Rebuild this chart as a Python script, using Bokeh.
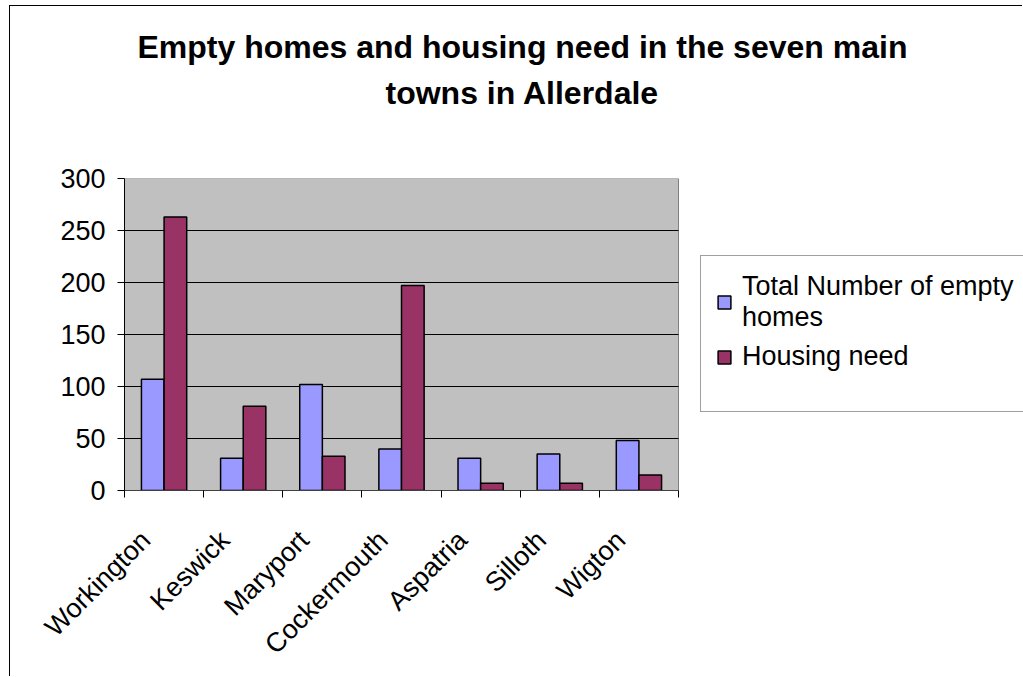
import math
from bokeh.plotting import figure
from bokeh.models import (Range1d, FixedTicker, ColumnDataSource, Legend, LegendItem, Title)
from bokeh.transform import dodge
from bokeh.embed import file_html
from bokeh.resources import INLINE

towns = ["Workington", "Keswick", "Maryport", "Cockermouth", "Aspatria", "Silloth", "Wigton"]
empty_homes = [107, 31, 102, 40, 31, 35, 48]
housing_need = [263, 81, 33, 197, 7, 7, 15]
y_ticks = [0, 50, 100, 150, 200, 250, 300]
title_lines = ["Empty homes and housing need in the seven main", "towns in Allerdale"]
series_names = ["Total Number of empty\nhomes", "Housing need"]

FONT = "Liberation Sans"
BLUE = "#9999FF"
PLUM = "#993366"

n = len(towns)
centers = [i + 0.5 for i in range(n)]
src = ColumnDataSource(dict(x=centers, town=towns, empty=empty_homes, need=housing_need))

# canvas geometry (page offset of 10/6 px due to the chart-area border)
CANVAS_W, CANVAS_H = 1013, 671
LEFT, TOP, BOTTOM = 114, 172, 187
PLOT_AREA_W = 554          # pixel width of the category area
frame_w = CANVAS_W - LEFT
x_end = n * frame_w / PLOT_AREA_W

p = figure(width=CANVAS_W, height=CANVAS_H, output_backend="svg", toolbar_location=None,
           x_range=Range1d(0, x_end), y_range=Range1d(y_ticks[0], y_ticks[-1]),
           min_border_left=LEFT, min_border_right=0, min_border_top=TOP,
           min_border_bottom=BOTTOM, margin=(5, 0, 0, 9))
p.styles = {"border-left": "1px solid black", "border-top": "1px solid black"}

p.background_fill_color = "white"
p.border_fill_color = "white"
p.outline_line_color = None
p.xgrid.visible = False
p.ygrid.visible = False

# plot area (grey wall) and its horizontal grid lines
p.quad(left=0, right=n, bottom=y_ticks[0], top=y_ticks[-1],
       fill_color="#C0C0C0", line_color="#808080", line_width=1)
p.segment(x0=0, x1=n, y0=y_ticks[1:-1], y1=y_ticks[1:-1], line_color="black", line_width=1)

bw = 0.286
r1 = p.vbar(x=dodge("x", -bw / 2, range=p.x_range), top="empty", width=bw, source=src,
            fill_color=BLUE, line_color="black", line_width=1.5)
r2 = p.vbar(x=dodge("x", bw / 2, range=p.x_range), top="need", width=bw, source=src,
            fill_color=PLUM, line_color="black", line_width=1.5)
# invisible renderer used only to give the legend box its extra bottom room
r3 = p.vbar(x=[], top=[], width=bw, fill_alpha=0, line_alpha=0)

# y axis
p.yaxis.ticker = FixedTicker(ticks=y_ticks)
p.yaxis.major_label_text_font = FONT
p.yaxis.major_label_text_font_size = "27px"
p.yaxis.major_label_text_color = "black"
p.yaxis.major_tick_in = 0
p.yaxis.major_tick_out = 7
p.yaxis.minor_tick_line_color = None
p.yaxis.axis_line_color = "black"
p.yaxis.major_label_standoff = 12

# x axis: labels near centers, tick marks at category boundaries
label_pos = [c - 0.23 for c in centers]
p.xaxis.bounds = (0, n)
p.xaxis.ticker = FixedTicker(ticks=label_pos, minor_ticks=list(range(n + 1)))
p.xaxis.major_label_overrides = {c: t for c, t in zip(label_pos, towns)}
p.xaxis.major_label_orientation = math.pi / 4
p.xaxis.major_label_text_font = FONT
p.xaxis.major_label_text_font_size = "27px"
p.xaxis.major_label_text_color = "black"
p.xaxis.major_tick_line_color = None
p.xaxis.minor_tick_in = 0
p.xaxis.minor_tick_out = 7
p.xaxis.minor_tick_line_color = "black"
p.xaxis.axis_line_color = "#404040"
p.xaxis.major_label_standoff = 38

# title (two lines, centred on the chart area); a tiny spacer panel sits next to the frame
p.title = None
p.add_layout(Title(text=" ", standoff=61, text_font_size="1px"), "above")
p.add_layout(Title(text=title_lines[1], align="left", offset=261, standoff=8,
                   text_font=FONT, text_font_style="bold", text_font_size="32px",
                   text_color="black"), "above")
p.add_layout(Title(text=title_lines[0], align="left", offset=13, standoff=8,
                   text_font=FONT, text_font_style="bold", text_font_size="32px",
                   text_color="black"), "above")

# legend
legend = Legend(items=[LegendItem(label=series_names[0], renderers=[r1]),
                       LegendItem(label=series_names[1], renderers=[r2]),
                       LegendItem(label=" ", renderers=[r3])],
                location=(576, 78), padding=15, spacing=8, margin=0,
                glyph_width=16, glyph_height=16, label_standoff=10,
                label_text_font=FONT, label_text_font_size="27px", label_text_color="black",
                border_line_color="#404040", border_line_width=1.5,
                background_fill_color="white", background_fill_alpha=1)
p.add_layout(legend, "center")

open("out.html", "w").write(file_html(p, INLINE))
